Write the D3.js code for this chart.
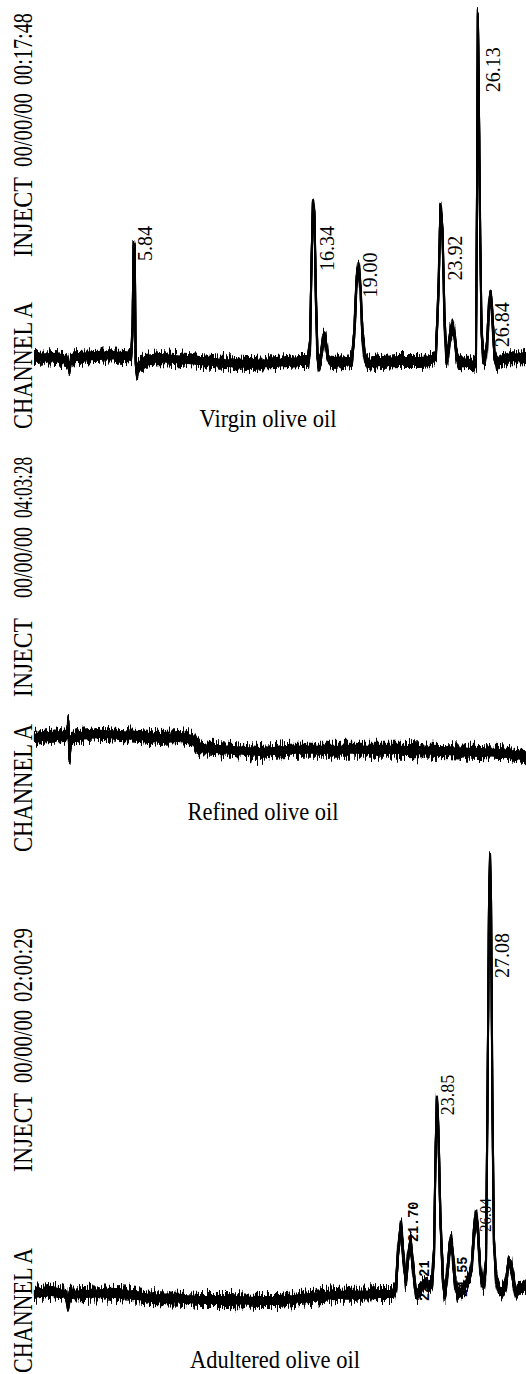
<!DOCTYPE html>
<html>
<head>
<meta charset="utf-8">
<script src="https://cdn.jsdelivr.net/npm/d3@7"></script>
<style>
  body { margin: 0; background: #fff; }
  svg { display: block; }
</style>
</head>
<body>
<script>
// ---- data: retention time (min) vs detector response (% of tallest peak) ----
const panelNames = ["Virgin olive oil", "Refined olive oil", "Adultered olive oil"];
const injectDate = "00/00/00";
const injectTimes = ["00:17:48", "04:03:28", "02:00:29"];
const channelName = "CHANNEL A";

const virginTrace = [
  [0,0.9],[0.94,1.1],[1.65,0.6],[1.89,0.3],[2.0,-0.9],[2.09,-2.0],[2.18,0],[2.36,1.1],[3.3,1.4],
  [4.48,1.7],[5.54,1.4],[5.72,1.1],[5.81,8.9],[5.87,33.3],[5.94,31.9],[5.99,0.3],[6.07,-3.4],
  [6.19,-1.4],[6.54,0.3],[7.43,0.9],[8.31,0.6],[9.78,0],[11.26,-0.6],[12.73,-0.9],[14.2,-0.6],
  [15.68,0],[16.15,0],[16.27,4.6],[16.36,29.0],[16.44,45.4],[16.53,42.0],[16.62,17.5],[16.71,1.7],
  [16.8,-1.4],[16.92,1.4],[17.03,6.0],[17.12,6.9],[17.21,4.6],[17.33,0.9],[17.57,-0.6],[18.33,-0.3],
  [18.74,0],[18.89,8.9],[19.01,23.3],[19.13,27.6],[19.24,21.8],[19.36,7.5],[19.51,0.9],[19.69,-0.9],
  [20.39,-0.3],[21.57,0],[22.75,0],[23.46,0.3],[23.69,1.7],[23.84,20.4],[23.96,44.3],[24.08,37.6],
  [24.2,11.8],[24.31,0.9],[24.43,3.2],[24.55,8.3],[24.67,10.3],[24.79,7.5],[24.9,1.7],[25.05,-0.3],
  [25.7,-0.6],[25.93,-1.4],[26.05,-0.3],[26.11,46.3],[26.16,100],[26.2,86.5],[26.29,40.5],
  [26.38,8.9],[26.47,1.7],[26.58,0.3],[26.7,4.6],[26.82,16.1],[26.92,19.5],[27.02,13.2],
  [27.14,1.7],[27.29,-1.7],[27.47,0.3],[28.06,1.1],[29,1.1]
];

const refinedTrace = [
  [0,2.0],[0.94,2.6],[1.77,2.9],[1.95,3.4],[2.03,6.0],[2.09,-3.2],[2.18,1.7],[2.71,2.6],[3.89,3.2],
  [5.07,2.9],[6.25,2.6],[7.43,2.0],[8.61,2.3],[9.37,1.7],[9.55,-0.3],[9.78,-0.9],[11.55,-1.4],
  [13.32,-2.0],[15.09,-1.4],[16.86,-1.4],[19.21,-1.4],[21.57,-1.4],[23.93,-1.7],[26.29,-2.0],
  [27.47,-2.3],[29,-3.2]
];

const adulteratedTrace = [
  [0,0],[0.94,0.5],[1.89,0],[2.0,-2.7],[2.12,-0.2],[3.89,0.2],[5.66,-0.2],[6.84,-0.9],[8.61,-1.1],
  [9.78,-1.4],[11.55,-1.4],[13.32,-1.6],[14.5,-1.6],[15.68,-0.9],[16.86,-0.5],[18.04,-0.2],
  [19.22,-0.2],[20.39,0],[21.16,0],[21.34,1.6],[21.46,9.6],[21.63,16.0],[21.75,9.6],[21.93,2.7],
  [22.04,8.2],[22.2,11.9],[22.34,6.2],[22.52,-0.2],[22.69,0.5],[22.93,2.1],[23.11,2.7],[23.28,1.6],
  [23.46,2.3],[23.58,9.6],[23.67,32.5],[23.75,44.6],[23.84,37.1],[23.96,16.5],[24.11,2.7],
  [24.22,-0.2],[24.37,5.0],[24.49,10.8],[24.58,12.4],[24.67,9.6],[24.81,2.7],[24.99,-0.2],
  [25.23,0.9],[25.46,2.3],[25.7,4.3],[25.82,6.9],[25.93,14.2],[26.05,18.3],[26.17,14.6],[26.29,6.2],
  [26.41,2.7],[26.52,2.1],[26.64,6.9],[26.73,43.9],[26.82,89.7],[26.88,100],[26.94,89.7],
  [27.02,43.9],[27.11,11.9],[27.23,3.9],[27.41,0.9],[27.64,0.5],[27.82,2.7],[27.99,7.3],[28.11,6.9],
  [28.23,3.9],[28.41,0.5],[28.65,1.4],[29,1.8]
];

// peak tags: printed retention time, and where the integrator wrote it (t, response)
const virginTags = [
  { text: "5.84",  t: 6.54,  v: 29.0 },
  { text: "16.34", t: 17.27, v: 26.1 },
  { text: "19.00", t: 19.75, v: 18.4 },
  { text: "23.92", t: 24.76, v: 23.3 },
  { text: "26.13", t: 27.0,  v: 77.9 },
  { text: "26.84", t: 27.58, v: 4.0 }
];
const refinedTags = [];
const adulteratedTags = [
  { text: "21.70", t: 22.34, v: 11.9 },
  { text: "22.21", t: 22.99, v: -1.6 },
  { text: "23.85", t: 24.34, v: 41.0 },
  { text: "24.55", t: 25.23, v: -0.7 },
  { text: "26.04", t: 26.58, v: 14.2 },
  { text: "27.08", t: 27.53, v: 72.5 }
];

// ---- layout ----
const W = 526, H = 1374;
const serif = "'Liberation Serif', 'Times New Roman', serif";

const panels = [
  { trace: virginTrace, tags: virginTags, base: 361, top: 16, captionX: 268, captionY: 427,
    side: [[429, 302], [257, 177], [167, 93], [85, 13]] },
  { trace: refinedTrace, tags: refinedTags, base: 745, top: 397, captionX: 263, captionY: 820,
    side: [[852, 724], [697, 618], [598, 527], [518, 457]] },
  { trace: adulteratedTrace, tags: adulteratedTags, base: 1294, top: 858, captionX: 275, captionY: 1368,
    side: [[1373, 1248], [1172, 1093], [1083, 1010], [1002, 928]] }
];

// how each printed tag looks in the scan
function tagStyle(p, text) {
  if (p === 0) return { size: 20, font: serif, weight: 400 };
  if (text === "23.85") return { size: 18, font: serif, weight: 400 };
  if (text === "27.08") return { size: 20, font: serif, weight: 400 };
  if (text === "26.04") return { size: 15, font: serif, weight: 400 };
  return { size: 13.5, font: "'Liberation Mono', monospace", weight: 700 };
}

const svg = d3.select("body").append("svg")
  .attr("width", W)
  .attr("height", H);

svg.append("rect").attr("width", W).attr("height", H).attr("fill", "#fff");

// detector noise look: thicken only vertically (flat baseline gets heavy, steep peaks stay thin),
// then roughen the edges with column-wise jitter
const defs = svg.append("defs");
const band = defs.append("filter")
  .attr("id", "band")
  .attr("filterUnits", "userSpaceOnUse")
  .attr("x", 0).attr("y", 0).attr("width", W).attr("height", H)
  .attr("color-interpolation-filters", "sRGB");
band.append("feMorphology")
  .attr("in", "SourceGraphic")
  .attr("operator", "dilate")
  .attr("radius", "0 3")
  .attr("result", "core");
const jitterSeeds = [5, 13, 29];
jitterSeeds.forEach((seed, i) => {
  band.append("feTurbulence")
    .attr("type", "fractalNoise")
    .attr("baseFrequency", "0.85 0.04")
    .attr("numOctaves", 2)
    .attr("seed", seed)
    .attr("result", "n" + i);
  band.append("feColorMatrix")
    .attr("in", "n" + i)
    .attr("type", "matrix")
    .attr("values", "0 0 0 0 0.5  0 1 0 0 0  0 0 1 0 0  0 0 0 0 1")
    .attr("result", "m" + i);
  band.append("feDisplacementMap")
    .attr("in", "core")
    .attr("in2", "m" + i)
    .attr("scale", 26)
    .attr("xChannelSelector", "R")
    .attr("yChannelSelector", "G")
    .attr("result", "d" + i);
});
const merge = band.append("feMerge");
merge.append("feMergeNode").attr("in", "core");
jitterSeeds.forEach((s, i) => merge.append("feMergeNode").attr("in", "d" + i));

const x = d3.scaleLinear().domain([0, 29]).range([34, W]);

panels.forEach((pn, p) => {
  const y = d3.scaleLinear().domain([0, 100]).range([pn.base, pn.top]);
  const g = svg.append("g");

  // left header, read bottom to top
  const sideTexts = [channelName, "INJECT", injectDate, injectTimes[p]];
  sideTexts.forEach((s, i) => {
    const [b, t] = pn.side[i];
    g.append("text")
      .attr("transform", `translate(32,${b}) rotate(-90) scale(1,1.25)`)
      .attr("font-family", serif)
      .attr("font-size", 22)
      .attr("textLength", b - t)
      .attr("lengthAdjust", "spacingAndGlyphs")
      .attr("fill", "#000")
      .text(s);
  });

  // peak tags
  pn.tags.forEach(d => {
    const st = tagStyle(p, d.text);
    g.append("text")
      .attr("transform", `translate(${x(d.t)},${y(d.v)}) rotate(-90) scale(1,1.1)`)
      .attr("dy", "0.34em")
      .attr("font-family", st.font)
      .attr("font-weight", st.weight)
      .attr("font-size", st.size)
      .attr("fill", "#000")
      .text(d.text);
  });

  // trace
  const line = d3.line().x(d => x(d[0])).y(d => y(d[1]));
  g.append("path")
    .datum(pn.trace)
    .attr("d", line)
    .attr("fill", "none")
    .attr("stroke", "#000")
    .attr("stroke-width", 2)
    .attr("stroke-linejoin", "round")
    .attr("filter", "url(#band)");

  // caption
  g.append("text")
    .attr("transform", `translate(${pn.captionX},${pn.captionY}) scale(1,1.12)`)
    .attr("text-anchor", "middle")
    .attr("font-family", serif)
    .attr("font-size", 22.5)
    .attr("fill", "#000")
    .text(panelNames[p]);
});
</script>
</body>
</html>
